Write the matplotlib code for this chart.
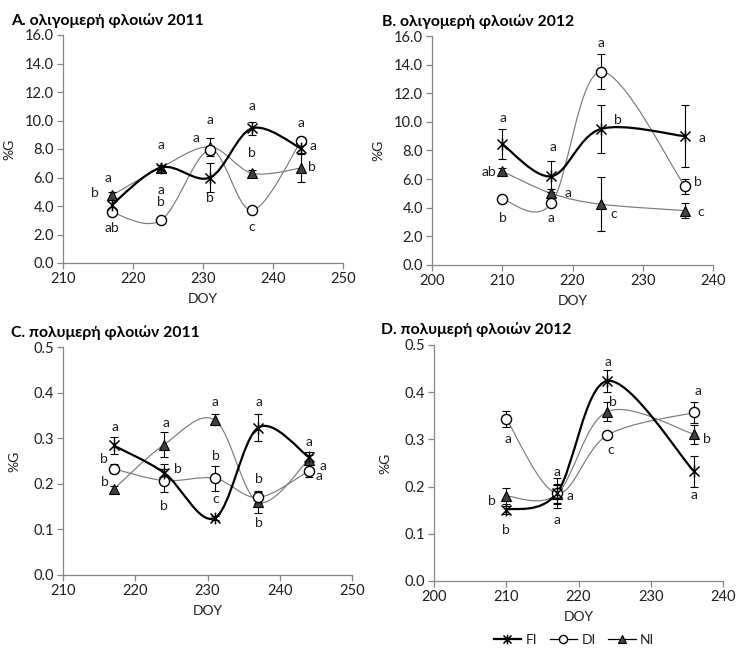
import numpy as np
import matplotlib
matplotlib.use("Agg")
import matplotlib.pyplot as plt
from matplotlib.path import Path
from matplotlib.patches import PathPatch
from matplotlib.lines import Line2D

plt.rcParams['font.family'] = ['Lato', 'Noto Sans', 'DejaVu Sans']

# ---------------- data ----------------
doy_2011 = [217, 224, 231, 237, 244]
doy_2012 = [210, 217, 224, 236]

# A. oligomers 2011
a_fi = [4.1, 6.7, 6.0, 9.45, 8.05]
a_fi_err = [0.3, 0.2, 1.0, 0.45, 0.3]
a_di = [3.55, 3.0, 7.93, 3.7, 8.56]
a_di_err = [0.2, 0.15, 0.3, 0.15, 0.3]
a_ni = [4.75, 6.7, 8.15, 6.3, 6.66]
a_ni_err = [0.25, 0.2, 0.65, 0.2, 1.0]

# B. oligomers 2012
b_fi = [8.45, 6.2, 9.5, 9.0]
b_fi_err = [1.05, 1.1, 1.7, 2.15]
b_di = [4.6, 4.3, 13.5, 5.5]
b_di_err = [0.15, 0.15, 1.22, 0.53]
b_ni = [6.55, 5.0, 4.25, 3.8]
b_ni_err = [0.2, 0.3, 1.9, 0.53]

# C. polymers 2011
c_fi = [0.284, 0.224, 0.125, 0.323, 0.259]
c_fi_err = [0.018, 0.02, 0.005, 0.029, 0.01]
c_di = [0.233, 0.207, 0.212, 0.170, 0.228]
c_di_err = [0.01, 0.025, 0.027, 0.013, 0.013]
c_ni = [0.188, 0.286, 0.340, 0.160, 0.253]
c_ni_err = [0.008, 0.027, 0.012, 0.024, 0.01]

# D. polymers 2012
d_fi = [0.151, 0.186, 0.424, 0.232]
d_fi_err = [0.008, 0.032, 0.023, 0.032]
d_di = [0.344, 0.186, 0.309, 0.357]
d_di_err = [0.017, 0.02, 0.005, 0.023]
d_ni = [0.180, 0.184, 0.359, 0.311]
d_ni_err = [0.017, 0.02, 0.02, 0.02]

# significance letters: (DOY position, value position, letter)
a_letters = [(216.4, 6.0, 'a'), (214.5, 4.9, 'b'), (217.0, 2.45, 'ab'),
             (224.0, 8.25, 'a'), (224.0, 5.15, 'a'), (224.0, 4.3, 'b'),
             (231.0, 10.0, 'a'), (229.0, 8.8, 'a'), (231.0, 4.55, 'b'),
             (237.0, 11.05, 'a'), (237.0, 7.75, 'b'), (237.0, 2.55, 'c'),
             (244.0, 9.85, 'a'), (245.7, 8.2, 'a'), (245.6, 6.75, 'b')]
b_letters = [(210.1, 10.3, 'a'), (208.1, 6.5, 'ab'), (210.1, 3.26, 'b'),
             (217.2, 8.27, 'a'), (219.4, 5.0, 'a'), (217.0, 3.26, 'a'),
             (224.1, 15.5, 'a'), (226.5, 10.13, 'b'), (225.8, 3.54, 'c'),
             (238.5, 8.9, 'a'), (237.9, 5.82, 'b'), (238.3, 3.73, 'c')]
c_letters = [(217.2, 0.325, 'a'), (215.7, 0.254, 'b'), (215.8, 0.203, 'b'),
             (224.2, 0.333, 'a'), (225.9, 0.232, 'b'), (224.0, 0.152, 'b'),
             (231.1, 0.380, 'a'), (231.1, 0.261, 'b'), (231.1, 0.167, 'c'),
             (237.1, 0.380, 'a'), (237.1, 0.210, 'b'), (237.1, 0.114, 'b'),
             (244.0, 0.291, 'a'), (246.0, 0.239, 'a'), (245.4, 0.217, 'a')]
d_letters = [(210.2, 0.301, 'a'), (208.0, 0.169, 'b'), (210.0, 0.109, 'b'),
             (217.06, 0.230, 'a'), (218.8, 0.180, 'a'), (217.0, 0.130, 'a'),
             (224.1, 0.464, 'a'), (224.8, 0.379, 'b'), (224.4, 0.277, 'c'),
             (236.5, 0.403, 'a'), (237.8, 0.301, 'b'), (236.0, 0.182, 'a')]

titles = ['A. ολιγομερή φλοιών 2011', 'B. ολιγομερή φλοιών 2012',
          'C. πολυμερή φλοιών 2011', 'D. πολυμερή φλοιών 2012']
series_names = ['FI', 'DI', 'NI']

# ---------------- styles ----------------
GRAY_AX = '#868686'
TXT = '#1e1e1e'
star = Path([(0, -1), (0, 1), (-0.85, -0.85), (0.85, 0.85), (-0.85, 0.85), (0.85, -0.85)],
            [Path.MOVETO, Path.LINETO, Path.MOVETO, Path.LINETO, Path.MOVETO, Path.LINETO])
styles = {
    'FI': dict(line=dict(color='black', lw=1.6),
               mk=dict(marker=star, ms=8.5, mfc='none', mec='black', mew=1.1)),
    'DI': dict(line=dict(color='#7a7a7a', lw=0.85),
               mk=dict(marker='o', ms=7.3, mfc='white', mec='black', mew=1.0)),
    'NI': dict(line=dict(color='#7a7a7a', lw=0.85),
               mk=dict(marker='^', ms=7.0, mfc='#404040', mec='black', mew=0.8)),
}


def smooth_path(x, y):
    """Cubic Bezier through the points (Catmull-Rom style smoothing)."""
    p = np.column_stack([x, y]).astype(float)
    n = len(p)
    verts = [p[0]]
    codes = [Path.MOVETO]
    for i in range(n - 1):
        p0 = p[i - 1] if i > 0 else p[i]
        p1, p2 = p[i], p[i + 1]
        p3 = p[i + 2] if i + 2 < n else p[i + 1]
        verts += [p1 + (p2 - p0) / 6.0, p2 - (p3 - p1) / 6.0, p2]
        codes += [Path.CURVE4] * 3
    return Path(verts, codes)


fig = plt.figure(figsize=(7.36, 6.48), dpi=100)

# axes rectangles in pixels: left, right, top(y), bottom(y)
rects_px = [(63, 343, 35, 263), (432, 713, 36, 265),
            (63, 352, 347, 575), (434, 723, 345, 581)]
W, H = 736.0, 648.0

panels = [
    (doy_2011, [(a_fi, a_fi_err), (a_di, a_di_err), (a_ni, a_ni_err)], a_letters,
     (210, 250), (0, 16), 2.0),
    (doy_2012, [(b_fi, b_fi_err), (b_di, b_di_err), (b_ni, b_ni_err)], b_letters,
     (200, 240), (0, 16), 2.0),
    (doy_2011, [(c_fi, c_fi_err), (c_di, c_di_err), (c_ni, c_ni_err)], c_letters,
     (210, 250), (0, 0.5), 0.1),
    (doy_2012, [(d_fi, d_fi_err), (d_di, d_di_err), (d_ni, d_ni_err)], d_letters,
     (200, 240), (0, 0.5), 0.1),
]
title_px = [(11, 21), (382, 22), (11, 333), (381, 330)]
ylab_px = [15, 384, 20, 391]

for k, (x, series, letters, xlim, ylim, ystep) in enumerate(panels):
    l, r, t, b = rects_px[k]
    ax = fig.add_axes([l / W, 1 - b / H, (r - l) / W, (b - t) / H])
    ax.set_xlim(*xlim)
    ax.set_ylim(*ylim)
    ax.set_xticks(np.arange(xlim[0], xlim[1] + 1, 10))
    ax.set_yticks(np.arange(ylim[0], ylim[1] + ystep / 2, ystep))
    ax.yaxis.set_major_formatter(matplotlib.ticker.FormatStrFormatter('%.1f'))
    for s in ['top', 'right']:
        ax.spines[s].set_visible(False)
    for s in ['left', 'bottom']:
        ax.spines[s].set_color(GRAY_AX)
        ax.spines[s].set_linewidth(0.9)
    ax.tick_params(direction='out', length=4, width=0.9, color=GRAY_AX,
                   labelsize=10.5, labelcolor=TXT, pad=2.5)
    ax.set_xlabel('DOY', fontsize=10, color=TXT, labelpad=5)
    ax.set_ylabel('%G', fontsize=10, color=TXT)
    ax.yaxis.set_label_coords((ylab_px[k] - l) / (r - l), 0.5)

    # thin series first, bold FI on top of the lines
    order = [2, 1, 0]
    for j in order:
        name = series_names[j]
        vals, errs = series[j]
        st = styles[name]
        patch = PathPatch(smooth_path(x, vals), fill=False, zorder=2 + (j == 0),
                          edgecolor=st['line']['color'], linewidth=st['line']['lw'])
        ax.add_patch(patch)
    for j in order:
        name = series_names[j]
        vals, errs = series[j]
        st = styles[name]
        ax.errorbar(x, vals, yerr=errs, fmt='none', ecolor='black', elinewidth=0.8,
                    capsize=3, capthick=0.8, zorder=4)
        ax.plot(x, vals, linestyle='none', zorder=5, clip_on=False, **st['mk'])

    for (lx, ly, txt) in letters:
        ax.text(lx, ly, txt, ha='center', va='center', fontsize=10, color=TXT, zorder=6)

    tx, ty = title_px[k]
    fig.text(tx / W, 1 - ty / H, titles[k], fontsize=11.3, fontweight='bold',
             ha='left', va='center', color='black')

handles = []
for name in series_names:
    st = styles[name]
    mk = dict(st['mk'])
    mk['ms'] = mk['ms'] * 0.8
    handles.append(Line2D([], [], color='black', lw=st['line']['lw'] if name == 'FI' else 0.9, **mk))
fig.legend(handles, series_names, loc='center', bbox_to_anchor=(574 / W, 1 - 640 / H),
           ncol=3, frameon=False, fontsize=10, handlelength=2.0, handletextpad=0.3,
           columnspacing=0.9, labelcolor=TXT)

fig.savefig('out.png', dpi=100)
